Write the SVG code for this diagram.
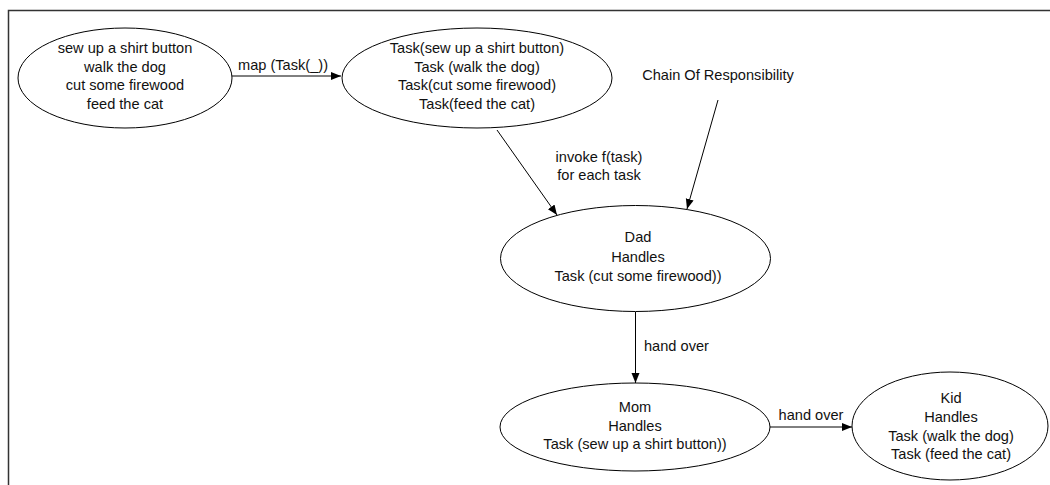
<svg xmlns="http://www.w3.org/2000/svg" width="1050" height="485" viewBox="0 0 1050 485">
  <style>
    .node { fill: #fff; stroke: #000; stroke-width: 1; }
    .t { font-family: "Liberation Sans", Arial, sans-serif; font-size: 14.6px; fill: #111; text-anchor: middle; }
    .ts { font-family: "Liberation Sans", Arial, sans-serif; font-size: 14.6px; fill: #111; text-anchor: start; }
    .edge { stroke: #000; stroke-width: 1; fill: none; marker-end: url(#arrow); }
    .frame { stroke: #333; stroke-width: 1.5; fill: none; }
  </style>
  <defs>
    <marker id="arrow" markerUnits="userSpaceOnUse" markerWidth="11" markerHeight="9" refX="10" refY="4" orient="auto">
      <path d="M0,0 L10,4 L0,8 z" fill="#000"/>
    </marker>
  </defs>
  <rect width="1050" height="485" fill="#fff"/>
  <path class="frame" d="M8.5,485 L8.5,10.5 L1050,10.5"/>

  <g id="connectors">
    <line class="edge" x1="232" y1="76" x2="341" y2="76"/>
    <text class="t" x="283" y="70">map (Task(_))</text>
    <line class="edge" x1="497" y1="130" x2="557" y2="215"/>
    <text class="t" x="599" y="162">invoke f(task)</text>
    <text class="t" x="599" y="180">for each task</text>
    <line class="edge" x1="718" y1="100" x2="687" y2="209"/>
    <line class="edge" x1="635.5" y1="312" x2="635.5" y2="383"/>
    <text class="ts" x="644" y="351">hand over</text>
    <line class="edge" x1="770" y1="427" x2="852" y2="427"/>
    <text class="t" x="811" y="420">hand over</text>
  </g>

  <g id="tasks">
    <ellipse class="node" cx="125" cy="78" rx="107" ry="50"/>
    <text class="t" x="125" y="53">sew up a shirt button</text>
    <text class="t" x="125" y="71.5">walk the dog</text>
    <text class="t" x="125" y="90">cut some firewood</text>
    <text class="t" x="125" y="108.5">feed the cat</text>
  </g>

  <g id="mapped-tasks">
    <ellipse class="node" cx="477" cy="78" rx="135" ry="50"/>
    <text class="t" x="477" y="53">Task(sew up a shirt button)</text>
    <text class="t" x="477" y="71.5">Task (walk the dog)</text>
    <text class="t" x="477" y="90">Task(cut some firewood)</text>
    <text class="t" x="477" y="108.5">Task(feed the cat)</text>
  </g>

  <g id="chain-label">
    <text class="t" x="718" y="80">Chain Of Responsibility</text>
  </g>

  <g id="dad">
    <ellipse class="node" cx="635.5" cy="258.5" rx="135" ry="53"/>
    <text class="t" x="638" y="242">Dad</text>
    <text class="t" x="638" y="261.5">Handles</text>
    <text class="t" x="638" y="281">Task (cut some firewood))</text>
  </g>

  <g id="mom">
    <ellipse class="node" cx="635" cy="427" rx="135" ry="44"/>
    <text class="t" x="635" y="412">Mom</text>
    <text class="t" x="635" y="431">Handles</text>
    <text class="t" x="635" y="449">Task (sew up a shirt button))</text>
  </g>

  <g id="kid">
    <ellipse class="node" cx="950" cy="426" rx="98" ry="54"/>
    <text class="t" x="951" y="403">Kid</text>
    <text class="t" x="951" y="421.5">Handles</text>
    <text class="t" x="951" y="441">Task (walk the dog)</text>
    <text class="t" x="951" y="459">Task (feed the cat)</text>
  </g>
</svg>
